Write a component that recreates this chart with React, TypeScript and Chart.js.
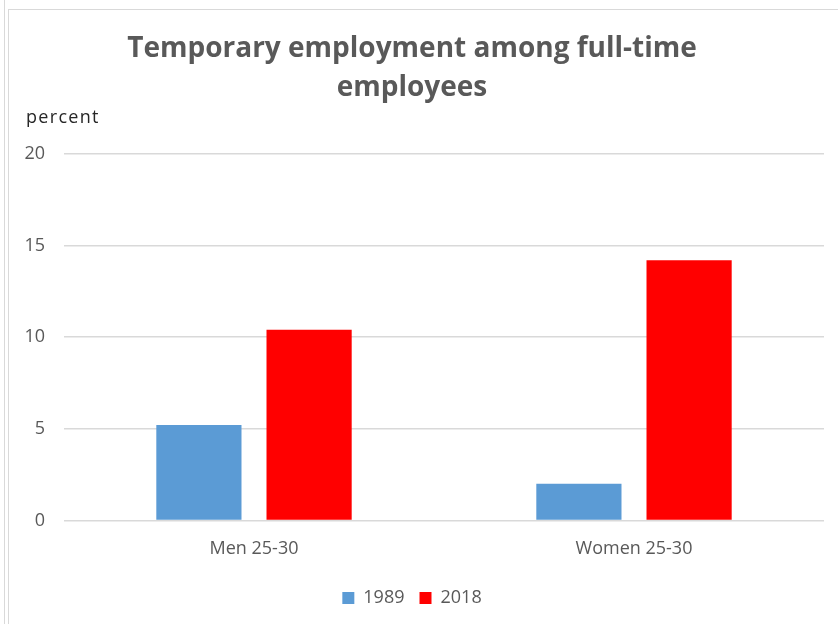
import React, { useEffect, useRef } from "react";
import { Chart, registerables } from "chart.js";

Chart.register(...registerables);

const categories = ["Men 25-30", "Women 25-30"];
const series1989 = [5.2, 2.0];
const series2018 = [10.4, 14.2];
const seriesLabels = ["1989", "2018"];
const seriesColors = ["#5B9BD5", "#FF0000"];
const titleLines = ["Temporary employment among full-time", "employees"];
const yAxisLabel = "percent";
const yMin = 0;
const yMax = 20;
const yStep = 5;

const FONT = "'Open Sans', sans-serif";

const percentLabel = {
  id: "percentLabel",
  afterDraw(chart: any) {
    const ctx = chart.ctx;
    ctx.save();
    ctx.font = `18px ${FONT}`;
    (ctx as any).letterSpacing = "1.3px";
    ctx.fillStyle = "#262626";
    ctx.textAlign = "left";
    ctx.textBaseline = "middle";
    ctx.fillText(yAxisLabel, 26, 118);
    ctx.restore();
  },
};

export default function App() {
  const ref = useRef<HTMLCanvasElement | null>(null);
  useEffect(() => {
    if (!ref.current) return;
    const chart = new Chart(ref.current, {
      type: "bar",
      data: {
        labels: categories,
        datasets: [
          {
            label: seriesLabels[0],
            data: series1989,
            backgroundColor: seriesColors[0],
            categoryPercentage: 0.58,
            barPercentage: 0.773,
          },
          {
            label: seriesLabels[1],
            data: series2018,
            backgroundColor: seriesColors[1],
            categoryPercentage: 0.58,
            barPercentage: 0.773,
          },
        ],
      },
      options: {
        responsive: false,
        animation: false,
        layout: { padding: { left: 0, right: 14, top: 0, bottom: 7 } },
        plugins: {
          title: {
            display: true,
            text: titleLines,
            color: "#595959",
            font: { family: FONT, size: 28, weight: "bold", lineHeight: 1.39 },
            padding: { top: 30, bottom: 46 },
          },
          legend: {
            position: "bottom",
            labels: {
              color: "#595959",
              font: { family: FONT, size: 18 },
              boxWidth: 12,
              boxHeight: 12,
              padding: 15,
            },
          },
          tooltip: { enabled: false },
        },
        scales: {
          x: {
            grid: { display: false },
            border: { display: false },
            afterFit(scale: any) {
              scale.height += 4;
            },
            ticks: {
              color: "#595959",
              font: { family: FONT, size: 18 },
              padding: 10,
            },
          },
          y: {
            min: yMin,
            max: yMax,
            afterFit(scale: any) {
              scale.width = 64;
            },
            grid: { color: "#d9d9d9", lineWidth: 1.5, drawTicks: false },
            border: { display: false },
            ticks: {
              stepSize: yStep,
              color: "#595959",
              font: { family: FONT, size: 18 },
              padding: 19,
            },
          },
        },
      },
      plugins: [percentLabel],
    });
    return () => chart.destroy();
  }, []);

  return (
    <div
      style={{
        position: "absolute",
        left: 0,
        top: 0,
        width: 838,
        height: 624,
        background: "#fff",
        overflow: "hidden",
      }}
    >
      <div style={{ position: "absolute", left: 4, top: 0, width: 1, height: 624, background: "#d9d9d9" }} />
      <div
        style={{
          position: "absolute",
          left: 8,
          top: 9,
          width: 900,
          height: 700,
          border: "1px solid #d9d9d9",
        }}
      />
      <canvas ref={ref} width={838} height={624} style={{ position: "absolute", left: 0, top: 0 }} />
    </div>
  );
}
